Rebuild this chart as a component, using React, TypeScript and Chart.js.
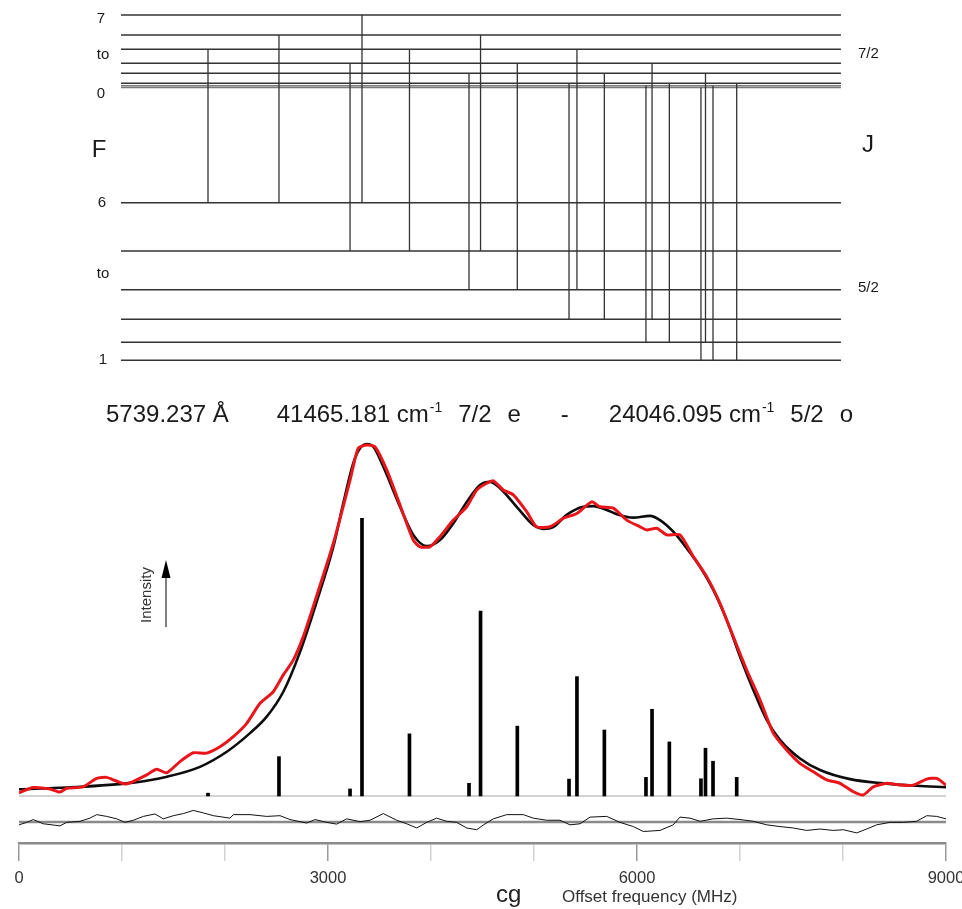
import { useEffect, useRef } from 'react';
import { Chart, registerables } from 'chart.js';

Chart.register(...registerables);

const FONT = "'Liberation Sans', Arial, Helvetica, sans-serif";

// ---- Hyperfine components (offset frequency in MHz) ----
const transitionFreq = [1835, 2524, 3214, 3330, 3791, 4369, 4481, 4838, 5340, 5417, 5683, 6087, 6146, 6314, 6621, 6665, 6738, 6968];
const transitionUpperF = [5, 6, 4, 7, 5, 3, 6, 4, 2, 5, 3, 1, 4, 2, 0, 3, 1, 2];
const transitionLowerF = [6, 6, 5, 6, 5, 4, 5, 4, 3, 4, 3, 2, 3, 2, 1, 2, 1, 1];
const stickIntensity = [0.8, 11.2, 2.0, 79.1, 17.7, 3.6, 52.7, 19.9, 4.8, 34.0, 18.8, 5.3, 24.7, 15.4, 4.9, 13.6, 9.9, 5.3];

// ---- Level diagram (arbitrary energy units) ----
const upperF = [0, 1, 2, 3, 4, 5, 6, 7];
const upperEnergy = [0, 1.7, 4.2, 14.2, 24.2, 38.2, 52.5, 72.5];
const lowerF = [1, 2, 3, 4, 5, 6];
const lowerEnergy = [0, 18, 41, 70.6, 109.3, 157.6];
const upperOffset = 272.8;
const levelSpan = [990, 7980];

// ---- Fitted profile (black) ----
const fitFreq = [0, 463, 1107, 1437, 1757, 2017, 2243, 2405, 2566, 2728, 2890, 3052, 3149, 3246, 3311, 3376, 3440, 3537, 3699, 3828, 3958, 4087, 4217, 4347, 4476, 4573, 4670, 4832, 4993, 5090, 5187, 5317, 5479, 5576, 5706, 5803, 5964, 6126, 6223, 6352, 6482, 6612, 6741, 6871, 7000, 7129, 7259, 7388, 7582, 7777, 8068, 8391, 8715, 9000];
const fitIntensity = [1.9, 2.4, 3.8, 5.5, 8.3, 12.6, 17.9, 22.6, 29.7, 41.0, 55.3, 71.0, 83.5, 94.9, 99.1, 100.3, 99.5, 93.8, 82.4, 74.4, 71.2, 72.9, 77.7, 83.8, 88.6, 89.5, 87.7, 82.4, 77.2, 76.1, 76.6, 80.1, 82.4, 82.6, 81.5, 80.3, 79.3, 79.8, 78.6, 75.3, 70.6, 65.3, 58.7, 50.1, 39.7, 30.2, 21.7, 16.0, 10.7, 7.4, 4.8, 3.6, 2.9, 2.5];

// ---- Measured spectrum (red) ----
const dataFreq = [0, 136, 301, 398, 463, 621, 754, 851, 932, 1029, 1107, 1240, 1337, 1434, 1563, 1692, 1822, 1951, 2081, 2211, 2340, 2469, 2566, 2663, 2760, 2890, 3052, 3214, 3294, 3376, 3456, 3570, 3699, 3828, 3893, 3990, 4087, 4217, 4347, 4444, 4541, 4605, 4702, 4799, 4929, 5026, 5155, 5284, 5415, 5560, 5641, 5770, 5900, 6029, 6094, 6191, 6288, 6417, 6547, 6677, 6806, 6935, 7065, 7194, 7323, 7453, 7582, 7712, 7842, 7971, 8100, 8197, 8294, 8424, 8553, 8683, 8813, 8910, 9000];
const dataIntensity = [0.9, 2.4, 2.0, 1.1, 2.2, 2.6, 5.0, 5.3, 4.4, 3.4, 4.1, 6.0, 7.6, 6.6, 9.8, 12.3, 12.2, 14.0, 16.9, 20.7, 26.4, 29.7, 34.5, 38.7, 45.4, 57.0, 72.0, 90.0, 99.1, 100.0, 99.5, 92.9, 82.9, 72.9, 71.0, 71.0, 73.9, 78.6, 82.4, 87.2, 89.1, 89.8, 87.2, 85.8, 81.0, 76.7, 76.7, 79.1, 80.5, 83.8, 82.4, 82.0, 78.6, 76.7, 75.8, 76.3, 74.4, 74.4, 68.2, 62.5, 54.9, 45.4, 35.9, 27.4, 17.9, 13.1, 9.3, 6.9, 4.6, 3.6, 1.2, 0.3, 2.6, 3.6, 3.1, 3.1, 4.8, 5.0, 3.1];

// ---- Residual (measured - fit) ----
const residualFreq = [0, 75, 139, 236, 398, 463, 592, 689, 754, 851, 949, 1029, 1110, 1207, 1320, 1401, 1498, 1595, 1692, 1789, 1887, 2049, 2081, 2243, 2405, 2534, 2631, 2793, 2874, 2987, 3084, 3181, 3311, 3408, 3537, 3667, 3764, 3862, 3958, 4055, 4152, 4249, 4347, 4444, 4510, 4605, 4735, 4896, 4993, 5123, 5252, 5350, 5447, 5544, 5706, 5835, 5964, 6061, 6223, 6352, 6417, 6515, 6612, 6741, 6871, 7000, 7129, 7259, 7388, 7517, 7647, 7777, 7906, 8003, 8133, 8230, 8327, 8456, 8586, 8715, 8813, 8910, 9000];
const residualValue = [-0.8, -0.1, 0.7, -0.5, -1.1, -0.1, 0.2, 1.1, 2.1, 1.6, 0.9, -0.1, 0.5, 1.6, 2.3, 0.9, 1.8, 2.4, 3.3, 2.6, 1.8, 1.1, 2.1, 2.1, 1.6, 1.8, 0.7, -0.3, 0.7, -0.1, -0.6, 0.9, 0.1, 0.5, 2.4, 0.5, -0.5, -1.7, -0.1, 1.1, 0.2, -0.1, -1.7, -2.2, -0.8, 0.9, 2.1, 2.1, 1.1, 0.5, 0.5, -0.8, -0.5, 1.4, 1.6, -0.1, -1.3, -2.7, -2.4, -0.8, 1.4, 1.1, 0.2, 0.9, 1.1, 0.7, 0.2, -0.8, -1.3, -1.7, -2.4, -2.0, -2.4, -2.2, -3.1, -2.0, -0.8, -0.1, -0.1, 0.2, 1.8, 1.6, 0.9];

// ---- Axis ----
const xRange = [0, 9000];
const xTickStep = 1000;
const xTickLabels = [0, 3000, 6000, 9000];

const titleParts = ['5739.237 Å', '41465.181 cm', '-1', '7/2', 'e', '-', '24046.095 cm', '-1', '5/2', 'o'];

const annotationPlugin = {
  id: 'annotations',
  afterDraw(chart: any) {
    const { ctx, scales } = chart;
    const x = scales.x;
    const yL = scales.yLev;
    const left = x.getPixelForValue(levelSpan[0]);
    const right = x.getPixelForValue(levelSpan[1]);
    const upTop = yL.getPixelForValue(upperOffset + upperEnergy[upperEnergy.length - 1]);
    const upBot = yL.getPixelForValue(upperOffset + upperEnergy[0]);
    const loTop = yL.getPixelForValue(lowerEnergy[lowerEnergy.length - 1]);
    const loBot = yL.getPixelForValue(lowerEnergy[0]);
    ctx.save();
    ctx.fillStyle = '#1a1a1a';
    ctx.textBaseline = 'middle';
    ctx.textAlign = 'center';
    const lab = (t: string, px: number, py: number, size: number) => {
      ctx.font = `${size}px ${FONT}`;
      ctx.fillText(t, px, py);
    };
    const lx = left - 20;
    lab(String(upperF[upperF.length - 1]), lx, upTop + 4, 15);
    lab('to', lx + 2, (upTop + upBot) / 2 + 4, 15);
    lab(String(upperF[0]), lx, upBot + 6, 15);
    lab('F', lx - 2, 150, 24);
    lab(String(lowerF[lowerF.length - 1]), lx + 1, loTop, 15);
    lab('to', lx + 2, 274, 15);
    lab(String(lowerF[0]), lx + 2, loBot, 15);
    ctx.textAlign = 'left';
    lab('7/2', right + 17, 54, 15);
    lab('J', right + 21, 145, 24);
    lab('5/2', right + 17, 288, 15);

    // title line
    ctx.textBaseline = 'alphabetic';
    const big = `24px ${FONT}`;
    const sup = `14px ${FONT}`;
    const startX = 106;
    const endX = 853;
    const base = 422;
    const isSup = (i: number) => titleParts[i] === '-1';
    let textW = 0;
    titleParts.forEach((p, i) => {
      ctx.font = isSup(i) ? sup : big;
      textW += ctx.measureText(p).width + (isSup(i) ? 1 : 0);
    });
    const gapW = [3, 0, 1, 1, 2.5, 2.5, 0, 1, 1, 0];
    const sumW = gapW.reduce((a, b) => a + b, 0);
    const unit = (endX - startX - textW) / sumW;
    let cx = startX;
    titleParts.forEach((p, i) => {
      ctx.font = isSup(i) ? sup : big;
      const dx = isSup(i) ? 1 : 0;
      ctx.fillText(p, cx + dx, isSup(i) ? base - 10 : base);
      cx += ctx.measureText(p).width + dx + gapW[i] * unit;
    });

    // Intensity arrow
    ctx.strokeStyle = '#555';
    ctx.lineWidth = 1.5;
    ctx.beginPath();
    ctx.moveTo(166, 627);
    ctx.lineTo(166, 575);
    ctx.stroke();
    ctx.fillStyle = '#000';
    ctx.beginPath();
    ctx.moveTo(166, 560);
    ctx.lineTo(170.5, 578);
    ctx.lineTo(161.5, 578);
    ctx.closePath();
    ctx.fill();
    ctx.save();
    ctx.translate(147, 595);
    ctx.rotate(-Math.PI / 2);
    ctx.textAlign = 'center';
    ctx.textBaseline = 'middle';
    ctx.fillStyle = '#333';
    ctx.font = `15px ${FONT}`;
    ctx.fillText('Intensity', 0, 0);
    ctx.restore();

    // bottom labels
    ctx.textAlign = 'left';
    ctx.textBaseline = 'alphabetic';
    ctx.fillStyle = '#222';
    ctx.font = `24px ${FONT}`;
    ctx.fillText('cg', 496, 902);
    ctx.font = `17px ${FONT}`;
    ctx.fillStyle = '#333';
    ctx.fillText('Offset frequency (MHz)', 562, 902);
    ctx.restore();
  },
};

export default function App() {
  const ref = useRef<HTMLCanvasElement>(null);
  useEffect(() => {
    const canvas = ref.current;
    if (!canvas) return;
    const lineBase = { type: 'line', pointRadius: 0, fill: false, tension: 0 };
    const datasets: any[] = [];

    upperEnergy.forEach((e, i) => {
      datasets.push({
        ...lineBase,
        data: [{ x: levelSpan[0], y: upperOffset + e }, { x: levelSpan[1], y: upperOffset + e }],
        borderColor: upperF[i] <= 1 ? '#7a7a7a' : '#333',
        borderWidth: 1.4,
        yAxisID: 'yLev',
        order: 6,
      });
    });
    lowerEnergy.forEach((e) => {
      datasets.push({
        ...lineBase,
        data: [{ x: levelSpan[0], y: e }, { x: levelSpan[1], y: e }],
        borderColor: '#333',
        borderWidth: 1.4,
        yAxisID: 'yLev',
        order: 6,
      });
    });
    transitionFreq.forEach((f, i) => {
      const eu = upperOffset + upperEnergy[upperF.indexOf(transitionUpperF[i])];
      const el = lowerEnergy[lowerF.indexOf(transitionLowerF[i])];
      datasets.push({
        ...lineBase,
        data: [{ x: f, y: eu }, { x: f, y: el }],
        borderColor: '#333',
        borderWidth: 1.3,
        yAxisID: 'yLev',
        order: 5,
      });
    });

    datasets.push({
      ...lineBase,
      data: [{ x: xRange[0], y: 0 }, { x: xRange[1], y: 0 }],
      borderColor: '#c4c4c4',
      borderWidth: 1.5,
      yAxisID: 'ySpec',
      order: 4,
    });
    datasets.push({
      ...lineBase,
      data: [{ x: xRange[0], y: 0 }, { x: xRange[1], y: 0 }],
      borderColor: '#8a8a8a',
      borderWidth: 2.5,
      yAxisID: 'yRes',
      order: 4,
    });
    datasets.push({
      ...lineBase,
      data: residualFreq.map((f, i) => ({ x: f, y: residualValue[i] })),
      borderColor: '#111',
      borderWidth: 1,
      yAxisID: 'yRes',
      order: 3,
    });
    datasets.push({
      type: 'bar',
      data: transitionFreq.map((f, i) => ({ x: f, y: stickIntensity[i] })),
      backgroundColor: '#000',
      borderWidth: 0,
      barThickness: 3,
      grouped: false,
      yAxisID: 'ySpec',
      order: 2,
    });
    datasets.push({
      ...lineBase,
      data: fitFreq.map((f, i) => ({ x: f, y: fitIntensity[i] })),
      borderColor: '#0d0d0d',
      borderWidth: 2.6,
      cubicInterpolationMode: 'monotone',
      yAxisID: 'ySpec',
      order: 1,
    });
    datasets.push({
      ...lineBase,
      data: dataFreq.map((f, i) => ({ x: f, y: dataIntensity[i] })),
      borderColor: '#e8161b',
      borderWidth: 3,
      tension: 0.2,
      yAxisID: 'ySpec',
      order: 0,
    });

    const chart = new Chart(canvas, {
      type: 'line',
      data: { datasets },
      options: {
        animation: false,
        responsive: false,
        events: [],
        layout: { padding: { left: 19, right: 16, top: 0, bottom: 0 } },
        plugins: { legend: { display: false }, tooltip: { enabled: false }, title: { display: false } },
        scales: {
          x: {
            type: 'linear',
            min: xRange[0],
            max: xRange[1],
            offset: false,
            position: 'bottom',
            border: { display: true, color: '#8a8a8a', width: 2.5 },
            grid: {
              offset: false,
              drawOnChartArea: false,
              drawTicks: true,
              tickLength: 18,
              lineWidth: 1.5,
              color: (c: any) => (c.tick && xTickLabels.includes(c.tick.value) ? '#9a9a9a' : '#d2d2d2'),
            },
            ticks: {
              stepSize: xTickStep,
              autoSkip: false,
              maxRotation: 0,
              padding: 8,
              color: '#333',
              font: { family: FONT, size: 16.5 },
              callback: (v: any) => (xTickLabels.includes(Number(v)) ? String(v) : ''),
            },
            afterFit: (s: any) => {
              s.height = 66;
              s.paddingLeft = 0;
              s.paddingRight = 0;
            },
          },
          yLev: { type: 'linear', display: false, min: -482.7, max: 360.3 },
          ySpec: { type: 'linear', display: false, min: -13.4, max: 226.8 },
          yRes: { type: 'linear', display: false, min: -5.98, max: 234.2 },
        },
      } as any,
      plugins: [annotationPlugin],
    } as any);
    return () => chart.destroy();
  }, []);

  return (
    <div style={{ position: 'fixed', left: 0, top: 0, width: 962, height: 909, background: '#fff' }}>
      <canvas ref={ref} width={962} height={909} style={{ display: 'block' }} />
    </div>
  );
}
